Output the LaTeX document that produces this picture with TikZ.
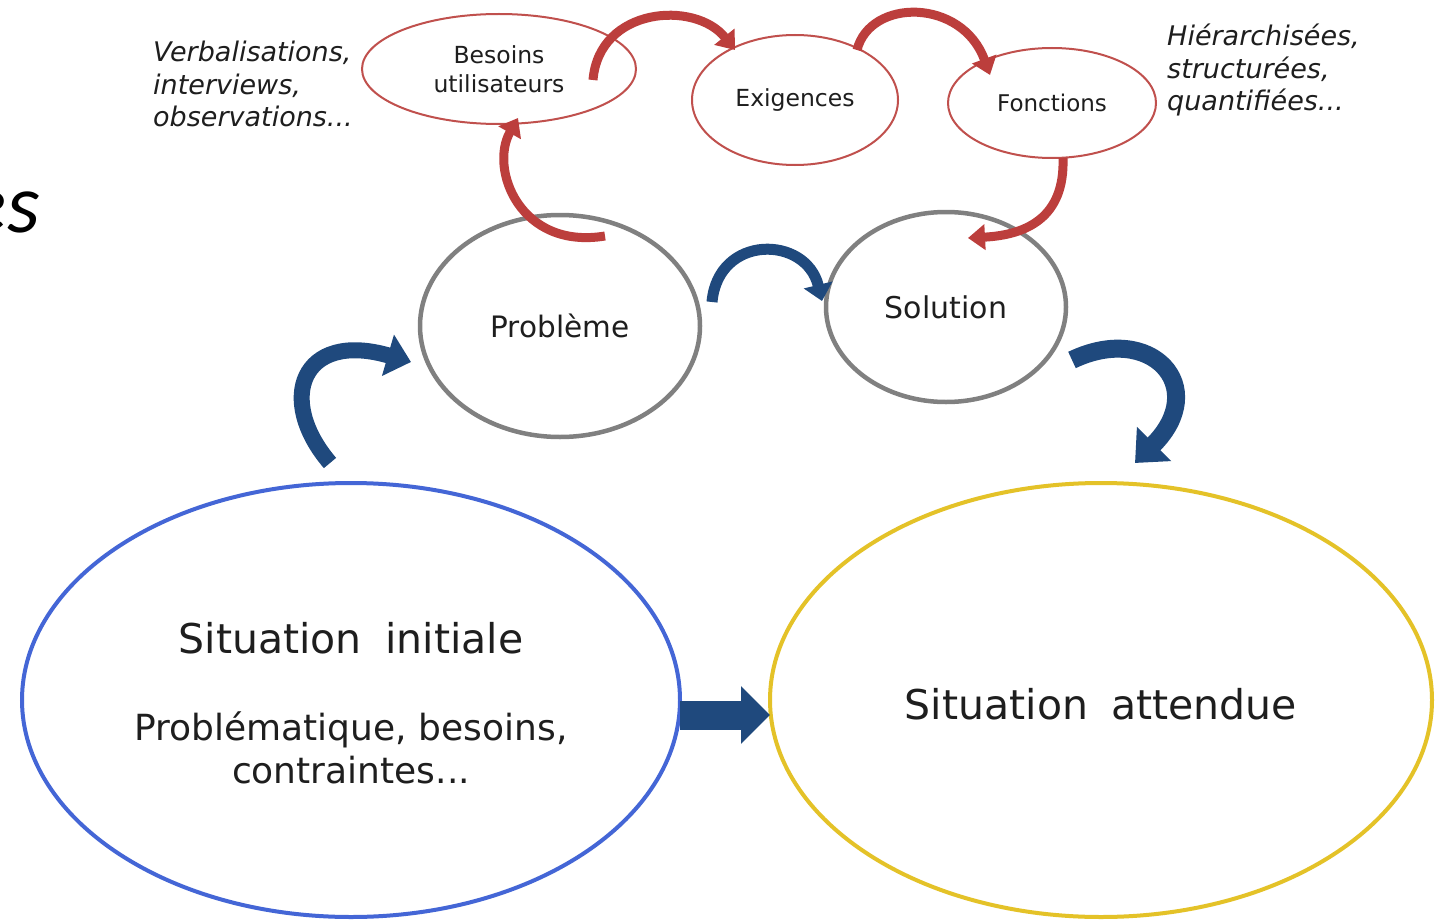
\documentclass[tikz,border=0pt]{standalone}
\usepackage{fontspec}
\setmainfont{DejaVu Sans}
\newfontfamily\fragfont{Carlito}
\usetikzlibrary{shapes.geometric,arrows.meta,calc}

\definecolor{initblue}{RGB}{68,102,214}
\definecolor{goalgold}{RGB}{228,194,40}
\definecolor{stepgray}{RGB}{128,128,128}
\definecolor{needred}{RGB}{192,80,77}
\definecolor{flowred}{RGB}{188,62,60}
\definecolor{flowblue}{RGB}{31,73,125}
\definecolor{ink}{RGB}{30,30,30}

\newcommand{\fs}[1]{\fontsize{#1}{1.2\dimexpr#1pt\relax}\selectfont}

\tikzset{
  oval/.style={ellipse, inner sep=0pt, text=ink},
  bigoval/.style={oval, line width=4pt},
  grayoval/.style={oval, draw=stepgray, line width=4.5pt},
  redoval/.style={oval, draw=needred, line width=2pt},
  lbl/.style={text=ink, inner sep=0pt},
  note/.style={lbl, align=left, font=\itshape\fontsize{27}{32.5}\selectfont},
  redflow/.style={draw=flowred, line width=9pt,
    -{Triangle[length=17pt,width=25pt]}},
  blueflow/.style={draw=flowblue, line width=#1,
    -{Triangle[length=1.5*#1,width=2.6*#1]}},
}

\begin{document}
\begin{tikzpicture}[x=1pt,y=-1pt]
\useasboundingbox (0,0) rectangle (1448,923);
\fill[white] (0,0) rectangle (1448,923);

% fragment of a heading cut by the left edge
\node[lbl, anchor=base east, font=\fragfont\itshape\fontsize{84}{90}\selectfont, text=black]
  (frag) at (40,232) {es};

% main situations
\node[bigoval, draw=initblue, minimum width=658pt, minimum height=434pt] (init) at (351,700) {};
\node[bigoval, draw=goalgold, minimum width=662pt, minimum height=434pt] (goal) at (1101,700) {};

\node[lbl, anchor=base, font=\fs{41}] (initT) at (351,653) {Situation\hspace{0.25em} initiale};
\node[lbl, anchor=north, align=center, font=\fontsize{36}{43}\selectfont] (initD) at (351,711)
  {Problématique, besoins,\\contraintes...};
\node[lbl, anchor=base, font=\fs{41}] (goalT) at (1101,719) {Situation\hspace{0.25em} attendue};

% problem and solution
\node[grayoval, minimum width=280pt, minimum height=222pt, font=\fs{29.5}] (prob) at (560,326) {Problème};
\node[grayoval, minimum width=240pt, minimum height=190pt, font=\fs{30}] (sol) at (946,307) {Solution};

% needs analysis chain
\node[redoval, minimum width=274pt, minimum height=110pt, align=center,
      font=\fontsize{23.5}{29.5}\selectfont] (need) at (499,69) {Besoins\\utilisateurs};
\node[redoval, minimum width=206pt, minimum height=130pt, font=\fs{23.5}] (req) at (795,100) {Exigences};
\node[redoval, minimum width=208pt, minimum height=110pt, font=\fs{23}] (func) at (1052,103) {Fonctions};

% side notes
\node[note, anchor=north west] (noteL) at (153,41) {Verbalisations,\\interviews,\\observations...};
\node[note, anchor=north west] (noteR) at (1167,24) {Hiérarchisées,\\structurées,\\quantifiées...};

% red flow between the analysis steps
\draw[redflow] ($(prob)+(45,-90)$) .. controls ($(prob)+(-40,-76)$) and ($(need)+(-10,100)$) .. ($(need)+(19,49)$);
\draw[redflow] ($(need)+(94,11)$) .. controls ($(need)+(100,-62)$) and ($(req)+(-100,-100)$) .. ($(req)+(-60,-50)$);
\draw[redflow] ($(req)+(62,-50)$) .. controls ($(req)+(75,-102)$) and ($(func)+(-90,-105)$) .. ($(func)+(-62,-28)$);
\draw[redflow] ($(func)+(11,55)$) .. controls ($(func)+(13,115)$) and ($(sol)+(80,-72)$) .. ($(sol)+(22,-69)$);

% blue flow of the overall process
\draw[blueflow=16pt] ($(init)+(-21,-237)$) .. controls ($(init)+(-75,-300)$) and ($(init)+(-50,-370)$) .. ($(prob)+(-149,36)$);
\draw[blueflow=11pt] ($(prob)+(152,-24)$) .. controls ($(prob)+(158,-92)$) and ($(sol)+(-140,-72)$) .. ($(sol)+(-124,-6)$);
\draw[blueflow=18pt] ($(sol)+(126,53)$) .. controls ($(sol)+(205,15)$) and ($(sol)+(265,80)$) .. ($(goal)+(34,-237)$);
\draw[draw=flowblue, line width=29pt, -{Triangle[length=29pt,width=56pt]}]
  ($(init.east)+(-2,15)$) -- ($(goal.west)+(2,15)$);
\end{tikzpicture}
\end{document}
